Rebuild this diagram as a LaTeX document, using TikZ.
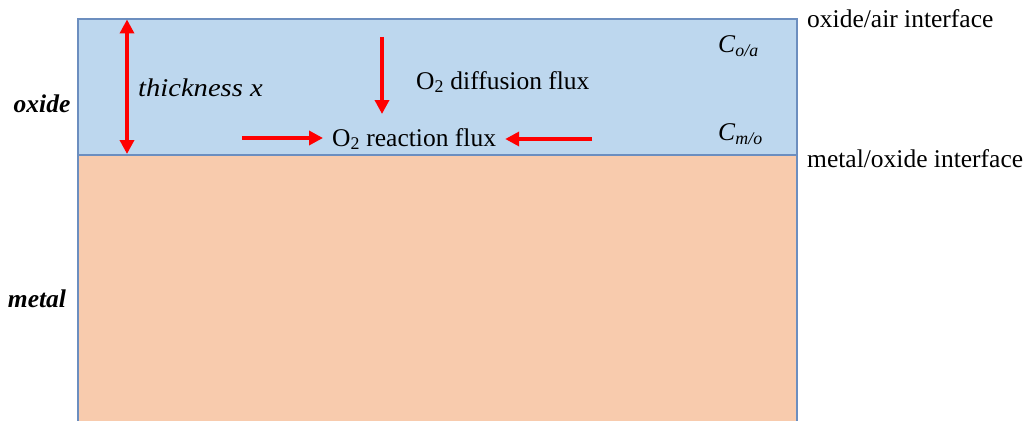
\documentclass[tikz,border=0pt]{standalone}
\usepackage{fontspec}
\usepackage{graphicx}
\setmainfont{Liberation Serif}
\usetikzlibrary{arrows.meta}
\definecolor{oxidefill}{RGB}{189,215,238}
\definecolor{metalfill}{RGB}{248,203,173}
\definecolor{edgeblue}{RGB}{108,142,191}
\definecolor{arrowred}{RGB}{255,0,0}
\tikzset{
  layer/.style={draw=edgeblue, line width=1.6pt},
  txt/.style={inner sep=0pt, font=\fontsize{25.5}{30}\selectfont},
  redarrow/.style={draw=arrowred, line width=3.4pt, -{Triangle[length=14pt,width=14pt]}},
  redboth/.style={draw=arrowred, line width=3.4pt, {Triangle[length=14pt,width=14pt]}-{Triangle[length=14pt,width=14pt]}}
}
\begin{document}
\begin{tikzpicture}[x=1pt,y=-1pt]
\useasboundingbox (0,0) rectangle (1035,420);
% layers
\fill[metalfill] (78,155) rectangle (797,430);
\draw[layer] (78,430) -- (78,155) -- (797,155) -- (797,430);
\filldraw[layer, fill=oxidefill] (78,19) rectangle (797,155);
% side labels
\node[txt, font=\fontsize{25.5}{30}\selectfont\bfseries\itshape] (oxl) at (42,104) {oxide};
\node[txt, font=\fontsize{25.5}{30}\selectfont\bfseries\itshape] (mel) at (37,299) {metal};
% thickness
\coordinate (thtop) at (127,19.5);
\coordinate (thbot) at (127,154);
\draw[redboth] (thtop) -- (thbot);
\node[txt, anchor=west, font=\fontsize{25.5}{30}\selectfont\itshape] (thk) at (138,88) {\scalebox{1.12}[1]{thickness x}};
% diffusion
\coordinate (dtop) at (382,37);
\coordinate (dbot) at (382,114);
\draw[redarrow] (dtop) -- (dbot);
\node[txt, anchor=west] (dif) at (416,82) {O\textsubscript{2} diffusion flux};
% reaction
\node[txt, anchor=west] (rea) at (332,139) {O\textsubscript{2} reaction flux};
\coordinate (lstart) at (242,138);
\coordinate (rstart) at (592,139);
\draw[redarrow] (lstart) -- ([xshift=-9pt]rea.west |- lstart);
\draw[redarrow] (rstart) -- ([xshift=9pt]rea.east |- rstart);
% concentrations
\node[txt, anchor=west] (coa) at (718,46) {\textit{C}\textsubscript{\textit{o/a}}};
\node[txt, anchor=west] (cmo) at (718,134) {\textit{C}\textsubscript{\textit{m/o}}};
% interfaces
\node[txt, anchor=west] (oai) at (807,19) {oxide/air interface};
\node[txt, anchor=west] (moi) at (807,159) {metal/oxide interface};
\end{tikzpicture}
\end{document}
